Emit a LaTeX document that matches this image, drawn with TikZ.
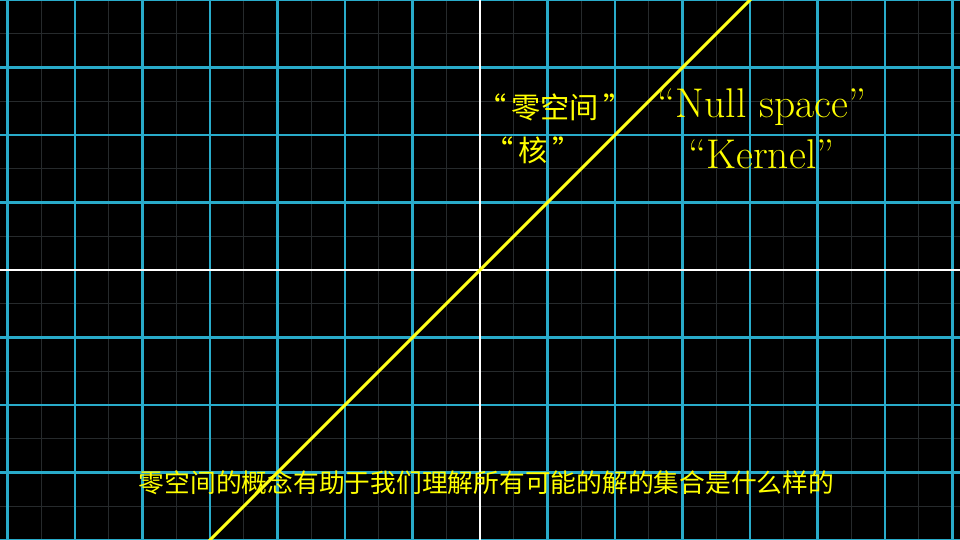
\documentclass[tikz,border=0pt]{standalone}
\usepackage{fontspec}
\newfontfamily\cjk{Noto Sans CJK SC}
\definecolor{gridblue}{HTML}{29ABCA}
\definecolor{faintgrid}{RGB}{38,42,44}
\definecolor{lineyellow}{HTML}{FFFF1A}
\definecolor{textyellow}{HTML}{FFFF00}
\tikzset{
  faintline/.style={draw=faintgrid, line width=0.45pt},
  mainline/.style={draw=gridblue, line width=0.9pt},
  axisline/.style={draw=white, line width=0.9pt},
  kernelline/.style={draw=lineyellow, line width=1.3pt},
  cnlabel/.style={text=textyellow, font=\cjk\fontsize{12.3}{14}\selectfont, inner sep=0pt},
  enlabel/.style={text=textyellow, font=\fontsize{17.5}{20}\selectfont, inner sep=0pt, anchor=base},
  subtitle/.style={text=textyellow, font=\cjk\fontsize{10.85}{13}\selectfont, inner sep=0pt}
}
\begin{document}
\begin{tikzpicture}
\fill[black] (-7.1111,-4) rectangle (7.1111,4);
\useasboundingbox (-7.1111,-4) rectangle (7.1111,4);
\begin{scope}
\clip (-7.1111,-4) rectangle (7.1111,4);
% faint half-unit lines
\foreach \k in {-7.5,-6.5,...,7.5} {
  \draw[faintline] (\k,-4.5) -- (\k,4.5);
}
\foreach \k in {-4.5,-3.5,...,4.5} {
  \draw[faintline] (-7.5,\k) -- (7.5,\k);
}
% main grid lines
\foreach \k in {-7,...,-1,1,2,...,7} {
  \draw[mainline] (\k,-4.5) -- (\k,4.5);
}
\foreach \k in {-4,...,-1,1,2,...,4} {
  \draw[mainline] (-7.5,\k) -- (7.5,\k);
}
% axes
\draw[axisline] (0,-4.5) -- (0,4.5);
\draw[axisline] (-7.5,0) -- (7.5,0);
% kernel line
\coordinate (lo) at (-4.2,-4.2);
\coordinate (hi) at (4.2,4.2);
\draw[kernelline] (lo) -- (hi);
\end{scope}
\node[cnlabel] (cnnull) at (1.111,2.415) {“\kern2pt零空间\kern2pt”};
\node[cnlabel] (cnker) at (0.785,1.778) {“\kern2pt核\kern2pt”};
\node[enlabel] (ennull) at (4.178,2.252) {“Null space”};
\node[enlabel] (enker) at (4.17,1.511) {“Kernel”};
\node[subtitle] (sub) at (0.096,-3.156) {零空间的概念有助于我们理解所有可能的解的集合是什么样的};
\end{tikzpicture}
\end{document}
